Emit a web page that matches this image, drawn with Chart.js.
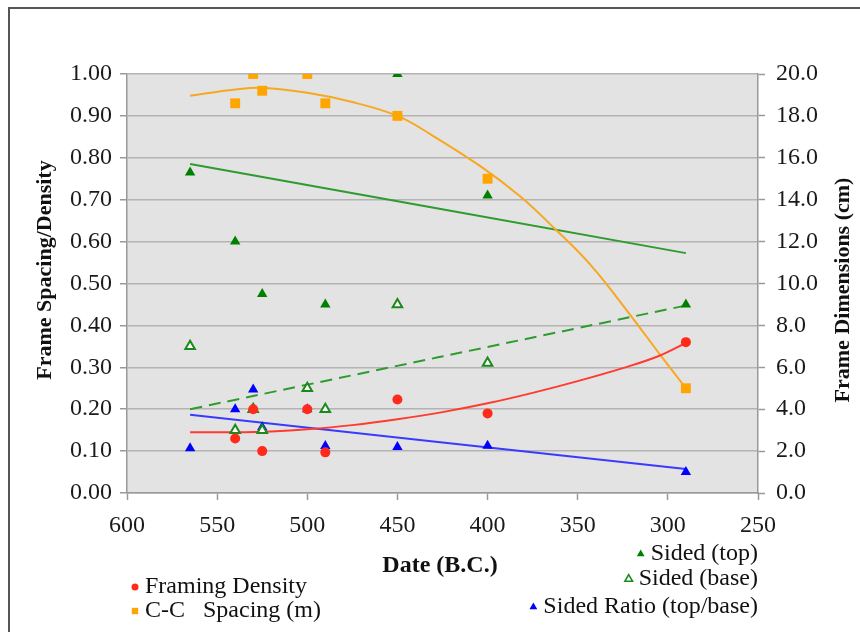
<!DOCTYPE html>
<html>
<head>
<meta charset="utf-8">
<script src="https://cdn.jsdelivr.net/npm/chart.js@4.4.0/dist/chart.umd.min.js"></script>
<style>
  html, body { margin: 0; padding: 0; background: #fff; }
  #wrap { width: 860px; height: 632px; position: relative; }
</style>
</head>
<body>
<div id="wrap"><canvas id="chart"></canvas></div>
<script>
// Measured points (date B.C.)
const densityDates  = [540, 530, 525, 500, 490, 450, 400, 290];
const densityValues = [0.13, 0.20, 0.10, 0.20, 0.097, 0.223, 0.19, 0.36];
const spacingDates  = [540, 530, 525, 500, 490, 450, 400, 290];
const spacingValues = [0.93, 1.00, 0.96, 1.00, 0.93, 0.90, 0.75, 0.25];
const topDates      = [565, 540, 525, 490, 450, 400, 290];
const topValues     = [15.3, 12.0, 9.5, 9.0, 20.0, 14.2, 9.0];   // cm
const baseDates     = [565, 540, 530, 525, 500, 490, 450, 400];
const baseValues    = [7.0, 3.0, 4.0, 3.0, 5.0, 4.0, 9.0, 6.2];  // cm
const ratioDates    = [565, 540, 530, 525, 500, 490, 450, 400, 290];
const ratioValues   = [0.107, 0.20, 0.247, 0.157, 0.20, 0.112, 0.11, 0.113, 0.05];

// Trend lines
const spacingTrendDates  = [565, 540, 525, 500, 475, 450, 432, 404, 382, 363, 343, 320, 305, 290];
const spacingTrendValues = [0.948, 0.963, 0.967, 0.955, 0.933, 0.90, 0.857, 0.78, 0.708, 0.632, 0.545, 0.42, 0.334, 0.25];
const densityTrendDates  = [565, 540, 520, 500, 475, 450, 425, 400, 375, 350, 325, 305, 290];
const densityTrendValues = [0.145, 0.145, 0.147, 0.152, 0.162, 0.176, 0.193, 0.214, 0.239, 0.267, 0.298, 0.327, 0.358];
const topTrendDates      = [565, 290];
const topTrendValues     = [15.7, 11.45];
const baseTrendDates     = [565, 290];
const baseTrendValues    = [4.0, 8.95];
const ratioTrendDates    = [565, 290];
const ratioTrendValues   = [0.187, 0.057];

// Axis ticks
const xTicks     = [600, 550, 500, 450, 400, 350, 300, 250];
const leftTicks  = [0, 0.1, 0.2, 0.3, 0.4, 0.5, 0.6, 0.7, 0.8, 0.9, 1.0];
const rightTicks = [0, 2, 4, 6, 8, 10, 12, 14, 16, 18, 20];

const pts = (xs, ys) => xs.map((x, i) => ({ x, y: ys[i] }));

const SERIF = '"Liberation Serif", "Times New Roman", serif';
Chart.defaults.font.family = SERIF;
Chart.defaults.font.size = 24;
Chart.defaults.color = '#1a1a1a';

const trend = (label, data, color, axis, extra) => Object.assign({
  label, data, yAxisID: axis,
  showLine: true, pointRadius: 0, borderColor: color, borderWidth: 2,
  backgroundColor: color, tension: 0.4
}, extra || {});

// Plot background, outer frame, titles and legend
const decor = {
  id: 'decor',
  beforeDraw(chart) {
    const { ctx, chartArea: a } = chart;
    ctx.save();
    ctx.fillStyle = '#e3e3e3';
    ctx.fillRect(a.left, a.top, a.right - a.left, a.bottom - a.top);
    ctx.restore();
  },
  afterDraw(chart) {
    const ctx = chart.ctx;
    ctx.save();
    ctx.strokeStyle = '#555';
    ctx.lineWidth = 2;
    ctx.beginPath();
    ctx.moveTo(9, 640); ctx.lineTo(9, 8); ctx.lineTo(870, 8);
    ctx.stroke();

    ctx.fillStyle = '#111';
    ctx.textAlign = 'center';
    ctx.textBaseline = 'middle';
    ctx.font = 'bold 24px ' + SERIF;
    ctx.fillText('Date (B.C.)', 440, 566);
    ctx.font = 'bold 22px ' + SERIF;
    [[45, 270, 'Frame Spacing/Density'], [843, 290, 'Frame Dimensions (cm)']].forEach(([x, y, t]) => {
      ctx.save();
      ctx.translate(x, y);
      ctx.rotate(-Math.PI / 2);
      ctx.fillText(t, 0, 0);
      ctx.restore();
    });

    // legend
    ctx.font = '24px ' + SERIF;
    const items = [
      { ds: 0, y: 587, left: 145, r: 3.5 },
      { ds: 1, y: 611, left: 145, r: 4.5 },
      { ds: 2, y: 554, right: 758, r: 4.5 },
      { ds: 3, y: 579, right: 758, r: 4.5 },
      { ds: 4, y: 607, right: 758, r: 4.5 },
    ];
    items.forEach(it => {
      const d = chart.data.datasets[it.ds];
      const w = ctx.measureText(d.label).width;
      const tx = it.left !== undefined ? it.left : it.right - w;
      ctx.fillStyle = '#111';
      ctx.textAlign = 'left';
      ctx.fillText(d.label, tx, it.y);
      ctx.fillStyle = d.backgroundColor;
      ctx.strokeStyle = d.borderColor;
      ctx.lineWidth = d.pointBorderWidth ? 1.5 : 0;
      Chart.helpers.drawPoint(ctx, {
        pointStyle: d.pointStyle, radius: it.r,
        borderWidth: d.pointBorderWidth ? 1.5 : 0, rotation: 0
      }, tx - 10, it.y);
    });
    ctx.restore();
  }
};

new Chart(document.getElementById('chart'), {
  type: 'scatter',
  data: {
    datasets: [
      { label: 'Framing Density', data: pts(densityDates, densityValues), yAxisID: 'y',
        pointStyle: 'circle', pointRadius: 5, backgroundColor: '#ff2a1a', borderColor: '#ff2a1a', pointBorderWidth: 0 },
      { label: 'C-C   Spacing (m)', data: pts(spacingDates, spacingValues), yAxisID: 'y',
        pointStyle: 'rect', pointRadius: 7, backgroundColor: '#ffa500', borderColor: '#ffa500', pointBorderWidth: 0 },
      { label: 'Sided (top)', data: pts(topDates, topValues), yAxisID: 'y2',
        pointStyle: 'triangle', pointRadius: 6, backgroundColor: '#008000', borderColor: '#008000', pointBorderWidth: 0 },
      { label: 'Sided (base)', data: pts(baseDates, baseValues), yAxisID: 'y2',
        pointStyle: 'triangle', pointRadius: 5.5, backgroundColor: '#ffffff', borderColor: '#1a8a1a', pointBorderWidth: 2 },
      { label: 'Sided Ratio (top/base)', data: pts(ratioDates, ratioValues), yAxisID: 'y',
        pointStyle: 'triangle', pointRadius: 6, backgroundColor: '#0000ff', borderColor: '#0000ff', pointBorderWidth: 0 },
      trend('density trend', pts(densityTrendDates, densityTrendValues), '#ff3b30', 'y'),
      trend('spacing trend', pts(spacingTrendDates, spacingTrendValues), '#f7a823', 'y'),
      trend('top trend', pts(topTrendDates, topTrendValues), '#2e9b2e', 'y2'),
      trend('base trend', pts(baseTrendDates, baseTrendValues), '#2e9b2e', 'y2', { borderDash: [12, 7] }),
      trend('ratio trend', pts(ratioTrendDates, ratioTrendValues), '#3a3aff', 'y'),
    ]
  },
  options: {
    responsive: true,
    maintainAspectRatio: false,
    animation: false,
    events: [],
    layout: { padding: { top: 74, left: 0, right: 0, bottom: 0 } },
    plugins: { legend: { display: false }, tooltip: { enabled: false } },
    scales: {
      x: {
        type: 'linear', reverse: true, min: 250, max: 600,
        afterBuildTicks: s => { s.ticks = xTicks.map(v => ({ value: v })); },
        afterFit: s => { s.height = 139; },
        grid: { drawOnChartArea: false, tickLength: 7, tickColor: '#999', tickWidth: 1.5 },
        border: { color: '#999', width: 1.5 },
        ticks: { padding: 11, callback: v => v }
      },
      y: {
        position: 'left', min: 0, max: 1,
        afterBuildTicks: s => { s.ticks = leftTicks.map(v => ({ value: v })); },
        afterFit: s => { s.width = 127; },
        grid: { color: '#b3b3b3', lineWidth: 1.5, tickLength: 7, tickColor: '#999' },
        border: { color: '#999', width: 1.5 },
        ticks: { padding: 8, callback: v => v.toFixed(2) }
      },
      y2: {
        position: 'right', min: 0, max: 20,
        afterBuildTicks: s => { s.ticks = rightTicks.map(v => ({ value: v })); },
        afterFit: s => { s.width = 102; },
        grid: { drawOnChartArea: false, tickLength: 7, tickColor: '#999', tickWidth: 1.5 },
        border: { color: '#999', width: 1.5 },
        ticks: { padding: 11, callback: v => v.toFixed(1) }
      }
    }
  },
  plugins: [decor]
});
</script>
</body>
</html>
